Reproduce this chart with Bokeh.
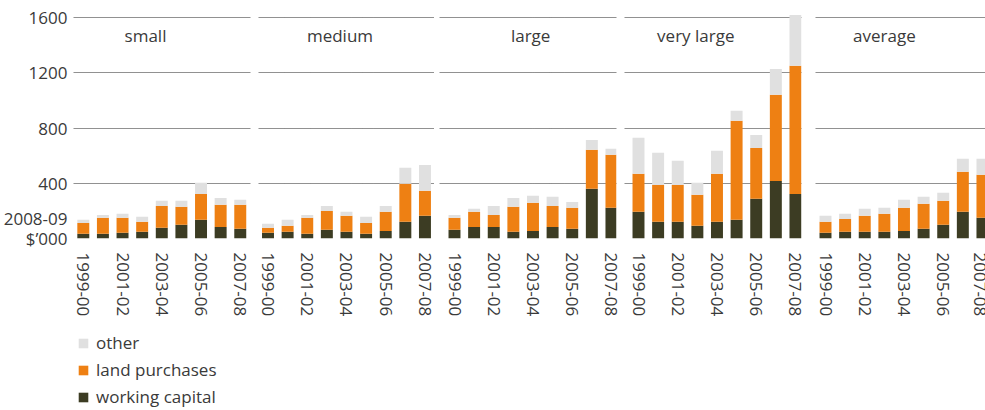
from bokeh.plotting import figure
from bokeh.layouts import row, column
from bokeh.models import FixedTicker, Label, Legend, LegendItem, ColumnDataSource, Range1d
from bokeh.embed import file_html
from bokeh.resources import INLINE

years = ["1999-00", "2000-01", "2001-02", "2002-03", "2003-04",
         "2004-05", "2005-06", "2006-07", "2007-08"]
panels = ["small", "medium", "large", "very large", "average"]
series = ["working capital", "land purchases", "other"]

small_wc = [34, 34, 41, 48, 77, 99, 135, 84, 70]
small_land = [79, 116, 109, 73, 159, 130, 188, 160, 174]
small_other = [22, 21, 29, 36, 37, 44, 80, 50, 36]

medium_wc = [41, 48, 34, 63, 48, 34, 55, 121, 164]
medium_land = [36, 44, 116, 137, 116, 79, 138, 275, 181]
medium_other = [29, 43, 21, 36, 29, 44, 43, 116, 188]

large_wc = [63, 84, 84, 48, 55, 84, 70, 360, 222]
large_land = [87, 109, 87, 181, 203, 152, 152, 282, 384]
large_other = [21, 22, 65, 65, 51, 66, 43, 72, 43]

vlarge_wc = [193, 121, 121, 92, 121, 135, 287, 417, 323]
vlarge_land = [275, 267, 267, 224, 347, 717, 369, 623, 927]
vlarge_other = [261, 232, 174, 87, 167, 72, 94, 188, 369]

average_wc = [41, 48, 48, 48, 55, 70, 99, 193, 150]
average_land = [80, 94, 116, 131, 167, 181, 174, 290, 311]
average_other = [43, 37, 51, 43, 58, 51, 58, 94, 116]

y_ticks = [0, 400, 800, 1200, 1600]
unit_label = "$\u2019000"
base_year_label = "2008-09"

data = [
    (small_wc, small_land, small_other),
    (medium_wc, medium_land, medium_other),
    (large_wc, large_land, large_other),
    (vlarge_wc, vlarge_land, vlarge_other),
    (average_wc, average_land, average_other),
]

colors = {"working capital": "#3c3c23", "land purchases": "#ee8013", "other": "#e0e0e0"}
FONT = "Open Sans"
TXT = "#3a3a3a"

# layout (pixels)
frame_w = [177, 176, 177, 177, 170]
border_l = [73, 4, 2, 2, 7]
border_r = [4, 3, 6, 7, 0]
first_off = [9.8, 9.5, 15.0, 14.0, 10.0]
slot = 19.62
title_x = [3.17, 3.67, 3.88, 2.92, 3.0]
H1 = 330
y_end = 228 / 0.138125
unit_pos = 148  # vertical position of the base-year note on the value axis

figs = []
for i, name in enumerate(panels):
    wc, land, other = data[i]
    start = -first_off[i] / slot
    end = start + frame_w[i] / slot
    p = figure(width=border_l[i] + frame_w[i] + border_r[i], height=H1,
               x_range=Range1d(start, end), y_range=Range1d(0, y_end),
               output_backend="svg", toolbar_location=None,
               min_border_left=border_l[i], min_border_right=border_r[i],
               min_border_top=10, min_border_bottom=H1 - 238,
               y_axis_location="left" if i == 0 else None)
    src = ColumnDataSource(dict(x=list(range(len(years))),
                                **{"working capital": wc, "land purchases": land, "other": other}))
    p.vbar_stack(series, x="x", width=0.61, source=src,
                 color=[colors[s] for s in series], line_color=None)
    p.outline_line_color = None
    p.xgrid.grid_line_color = None
    p.ygrid.ticker = FixedTicker(ticks=y_ticks)
    p.ygrid.grid_line_color = "#222222"
    p.ygrid.grid_line_dash = "1 1"
    p.ygrid.grid_line_width = 1
    p.background_fill_color = "white"
    p.border_fill_color = "white"

    xa = p.xaxis[0]
    xa.ticker = FixedTicker(ticks=[0, 2, 4, 6, 8])
    xa.major_label_overrides = {k: years[k] for k in range(0, len(years), 2)}
    xa.major_label_orientation = "vertical"
    xa.axis_line_color = None
    xa.major_tick_line_color = None
    xa.minor_tick_line_color = None
    xa.major_tick_out = 0
    xa.major_tick_in = 0
    xa.major_label_standoff = 14
    xa.major_label_text_font = FONT
    xa.major_label_text_font_size = "17px"
    xa.major_label_text_color = TXT

    if i == 0:
        ya = p.yaxis[0]
        ya.ticker = FixedTicker(ticks=[0, unit_pos] + y_ticks[1:])
        ya.major_label_overrides = {0: unit_label, unit_pos: base_year_label}
        ya.axis_line_color = None
        ya.major_tick_line_color = None
        ya.minor_tick_line_color = None
        ya.major_tick_out = 0
        ya.major_tick_in = 0
        ya.major_label_standoff = 6
        ya.major_label_text_font = FONT
        ya.major_label_text_font_size = "17px"
        ya.major_label_text_color = TXT

    p.add_layout(Label(x=title_x[i], y=1470, text=name, text_align="center",
                       text_baseline="middle", text_font=FONT, text_font_size="17px",
                       text_color=TXT))
    figs.append(p)

# legend figure
lg = figure(width=400, height=410 - H1, output_backend="svg", toolbar_location=None,
            x_range=Range1d(0, 1), y_range=Range1d(0, 1),
            min_border_left=77, min_border_top=1, min_border_right=0, min_border_bottom=0)
lg.axis.visible = False
lg.grid.visible = False
lg.outline_line_color = None
items = []
for s in ["other", "land purchases", "working capital"]:
    src = ColumnDataSource(dict(x=[10], top=[1]))
    r = lg.vbar(x="x", top="top", width=0.5, source=src, color=colors[s], line_color=None)
    items.append(LegendItem(label=s, renderers=[r]))
leg = Legend(items=items, location="top_left", margin=0, padding=0,
             border_line_color=None, background_fill_alpha=0,
             glyph_width=12, glyph_height=12, label_standoff=7,
             label_height=20, spacing=4,
             label_text_font=FONT, label_text_font_size="17px", label_text_color=TXT)
lg.add_layout(leg)

layout = column(row(*figs, spacing=0), lg, spacing=0)
open("out.html", "w").write(file_html(layout, INLINE))
